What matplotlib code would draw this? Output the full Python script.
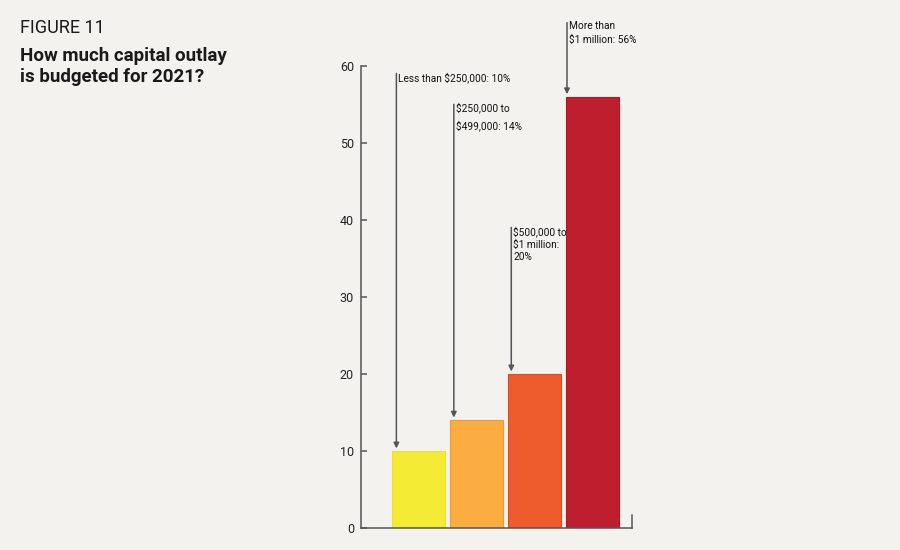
import matplotlib
matplotlib.use('Agg')
from matplotlib import pyplot as plt

# chart data
categories = ['Less than $250,000: 10%',
              '$250,000 to\n$499,000: 14%',
              '$500,000 to\n$1 million:\n20%',
              'More than\n$1 million: 56%']
values = [10, 14, 20, 56]
colors = ['#F4EB34', '#FBAD42', '#EE5B2C', '#BF1E2E']
edges = ['#EFE12A', '#EE9A32', '#E04A20', '#B0182A']
yticks = [0, 10, 20, 30, 40, 50, 60]

# where each callout line starts (data units) and how far it sits from bar left
arrow_top = [59, 55, 39, 65.6]
arrow_dx = [0.07, 0.06, 0.05, 0.01]
spacing = [1.25, 1.75, 1.3, 1.4]

bg = '#F3F2EE'
narrow = ['Roboto', 'DejaVu Sans']

fig = plt.figure(figsize=(9, 5.5), dpi=100)
fig.patch.set_facecolor(bg)

ax = fig.add_axes([0.4011, 0.0405, 0.3011, 0.84])
ax.set_facecolor(bg)

width = 0.9
x = list(range(len(values)))
ax.bar(x, values, width=width, color=colors, edgecolor=edges, linewidth=0.8, zorder=2)

ax.set_xlim(-0.99, 3.68)
ax.set_ylim(0, 60)
ax.set_yticks(yticks)
ax.set_xticks([])

ax.spines['top'].set_visible(False)
for side in ['left', 'bottom', 'right']:
    ax.spines[side].set_color('#555555')
    ax.spines[side].set_linewidth(1.1)
ax.spines['right'].set_bounds(0, 1.7)

ax.tick_params(axis='y', direction='in', length=4.5, width=1.1, color='#555555',
               labelsize=9, labelcolor='#222222', pad=5)
for lab in ax.get_yticklabels():
    lab.set_fontfamily('Roboto')

# callouts with arrows
for i, (lab, val) in enumerate(zip(categories, values)):
    ax_x = i - width / 2 + arrow_dx[i]
    ax.annotate('', xy=(ax_x, val + 0.3), xytext=(ax_x, arrow_top[i]),
                arrowprops=dict(arrowstyle='-|>', color='#555555', lw=1.1,
                                mutation_scale=8, shrinkA=0, shrinkB=0),
                annotation_clip=False, zorder=3)
    ax.text(ax_x + 0.035, arrow_top[i] + 0.2, lab, va='top', ha='left',
            fontsize=7.3, family=narrow, color='#111111',
            linespacing=spacing[i], clip_on=False)

# titles
fig.text(20 / 900, 1 - 19 / 550, 'FIGURE 11', fontsize=13, family=narrow,
         color='#1A1A1A', va='top', ha='left')
fig.text(20 / 900, 1 - 47 / 550, 'How much capital outlay\nis budgeted for 2021?',
         fontsize=13.5, family=['Roboto', 'DejaVu Sans'], fontweight='bold',
         color='#1A1A1A', va='top', ha='left', linespacing=1.25)

fig.savefig('out.png', dpi=100, facecolor=bg)
